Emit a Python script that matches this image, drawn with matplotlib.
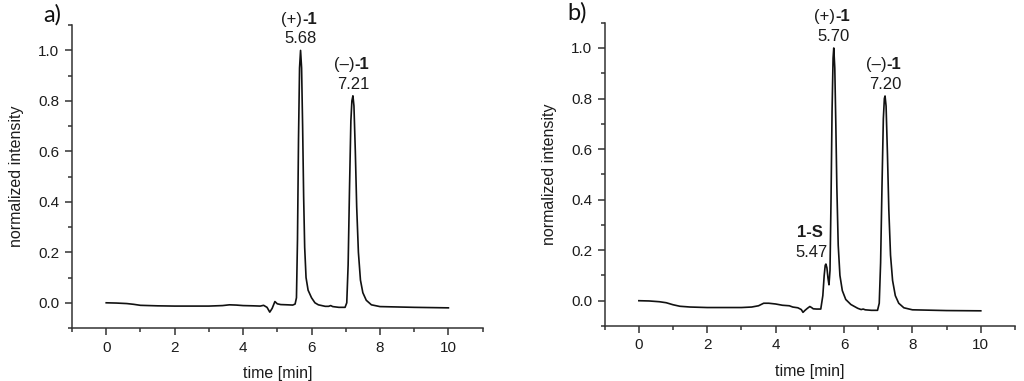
import matplotlib
matplotlib.use("Agg")
import matplotlib.pyplot as plt
from matplotlib.ticker import MultipleLocator

plt.rcParams['font.family'] = ['Liberation Sans', 'DejaVu Sans']

# Panel a: chromatogram (time [min], normalized intensity)
time_a = [0.0, 0.3, 0.6, 0.8, 1.0, 1.5, 2.0, 2.5, 3.0, 3.4, 3.6, 3.8, 4.0, 4.3, 4.5, 4.6,
          4.7, 4.78, 4.85, 4.93, 5.0, 5.1, 5.3, 5.45, 5.52, 5.56, 5.59, 5.62, 5.65, 5.68,
          5.71, 5.74, 5.77, 5.8, 5.84, 5.9, 6.0, 6.1, 6.2, 6.4, 6.5, 6.56, 6.62, 6.8,
          6.98, 7.03, 7.07, 7.11, 7.15, 7.18, 7.21, 7.24, 7.28, 7.32, 7.37, 7.43, 7.5,
          7.6, 7.75, 8.0, 9.0, 10.0]
inten_a = [0.0, -0.001, -0.003, -0.006, -0.01, -0.012, -0.013, -0.013, -0.013, -0.011, -0.008,
           -0.009, -0.011, -0.012, -0.013, -0.01, -0.018, -0.037, -0.022, 0.005, -0.004,
           -0.007, -0.008, -0.009, -0.005, 0.02, 0.25, 0.65, 0.93, 1.0, 0.93, 0.7, 0.42,
           0.22, 0.1, 0.05, 0.02, 0.0, -0.008, -0.014, -0.014, -0.011, -0.015, -0.018,
           -0.018, 0.0, 0.15, 0.45, 0.72, 0.8, 0.82, 0.78, 0.6, 0.38, 0.2, 0.09, 0.04,
           0.01, -0.008, -0.015, -0.018, -0.02]

# Panel b
time_b = [0.0, 0.3, 0.6, 0.8, 1.0, 1.2, 1.5, 2.0, 2.5, 3.0, 3.3, 3.5, 3.65, 3.8, 4.0, 4.2,
          4.4, 4.5, 4.65, 4.75, 4.8, 4.86, 4.93, 5.0, 5.05, 5.1, 5.2, 5.32, 5.38, 5.42,
          5.45, 5.47, 5.5, 5.53, 5.56, 5.59, 5.62, 5.65, 5.68, 5.70, 5.73, 5.76, 5.79,
          5.83, 5.88, 5.95, 6.05, 6.2, 6.4, 6.5, 6.56, 6.62, 6.8, 6.98, 7.03, 7.07, 7.11,
          7.15, 7.18, 7.20, 7.23, 7.27, 7.31, 7.36, 7.42, 7.5, 7.6, 7.75, 8.0, 9.0, 10.0]
inten_b = [0.0, -0.001, -0.004, -0.008, -0.016, -0.022, -0.025, -0.027, -0.027, -0.027,
           -0.025, -0.02, -0.01, -0.01, -0.013, -0.018, -0.02, -0.025, -0.028, -0.035,
           -0.046, -0.038, -0.03, -0.023, -0.027, -0.032, -0.033, -0.033, 0.02, 0.1,
           0.14, 0.145, 0.13, 0.09, 0.063, 0.12, 0.4, 0.75, 0.96, 1.0, 0.92, 0.7, 0.45,
           0.22, 0.1, 0.04, 0.005, -0.015, -0.03, -0.035, -0.033, -0.036, -0.038, -0.038,
           -0.01, 0.15, 0.45, 0.72, 0.8, 0.81, 0.77, 0.58, 0.36, 0.18, 0.08, 0.02, -0.01,
           -0.028, -0.036, -0.039, -0.04]

labels_a = [("(+)", "-1", "5.68", 5.68, 1.0), ("(–)", "-1", "7.21", 7.21, 0.82)]
labels_b = [("", "1-S", "5.47", 5.47, 0.145), ("(+)", "-1", "5.70", 5.70, 1.0),
            ("(–)", "-1", "7.20", 7.20, 0.81)]

fig = plt.figure(figsize=(10.24, 3.81), dpi=100)
ax_a = fig.add_axes([0.0703, 0.139, 0.401, 0.795])
ax_b = fig.add_axes([0.5905, 0.1444, 0.4007, 0.796])

TXT = '#1c1c1c'

def style(ax, t, y, labels, tag, tagx):
    ax.plot(t, y, color='#111111', lw=1.2)
    ax.set_xlim(-1, 11)
    ax.set_ylim(-0.1, 1.1)
    for s in ('top', 'right'):
        ax.spines[s].set_visible(False)
    for s in ('left', 'bottom'):
        ax.spines[s].set_color('#333333')
        ax.spines[s].set_linewidth(1.1)
    ax.set_xticks([0, 2, 4, 6, 8, 10])
    ax.xaxis.set_minor_locator(MultipleLocator(1))
    ax.set_yticks([0.0, 0.2, 0.4, 0.6, 0.8, 1.0])
    ax.set_yticklabels(['0.0', '0.2', '0.4', '0.6', '0.8', '1.0'])
    ax.yaxis.set_minor_locator(MultipleLocator(0.1))
    ax.tick_params(which='major', direction='out', length=5, width=1.1, color='#333333',
                   labelsize=11, labelcolor=TXT, pad=4)
    ax.tick_params(which='minor', direction='out', length=3, width=1.1, color='#333333')
    ax.set_xlabel('time [min]', fontsize=11.5, color=TXT, labelpad=8)
    ax.set_ylabel('normalized intensity', fontsize=11.5, color=TXT, labelpad=10)
    for pre, bold, num, x, yv in labels:
        if pre:
            ax.annotate(num, (x, yv), xytext=(0, 3), textcoords='offset points',
                        ha='center', va='bottom', fontsize=12, color=TXT)
            ax.annotate(pre, (x, yv), xytext=(1, 17), textcoords='offset points',
                        ha='right', va='bottom', fontsize=12, color=TXT)
            ax.annotate(bold, (x, yv), xytext=(1, 17), textcoords='offset points',
                        ha='left', va='bottom', fontsize=12, fontweight='bold', color=TXT)
        else:
            ax.annotate(num, (x, yv), xytext=(1, 3), textcoords='offset points',
                        ha='right', va='bottom', fontsize=12, color=TXT)
            ax.annotate(bold, (x, yv), xytext=(-2, 17), textcoords='offset points',
                        ha='right', va='bottom', fontsize=12, fontweight='bold', color=TXT)
    ax.text(tagx, 1.033, tag, transform=ax.transAxes, fontsize=17,
            family=['Lato', 'DejaVu Sans'], va='center', ha='left', color='#111111')

style(ax_a, time_a, inten_a, labels_a, 'a)', -0.07)
style(ax_b, time_b, inten_b, labels_b, 'b)', -0.092)

fig.savefig('out.png', dpi=100)
